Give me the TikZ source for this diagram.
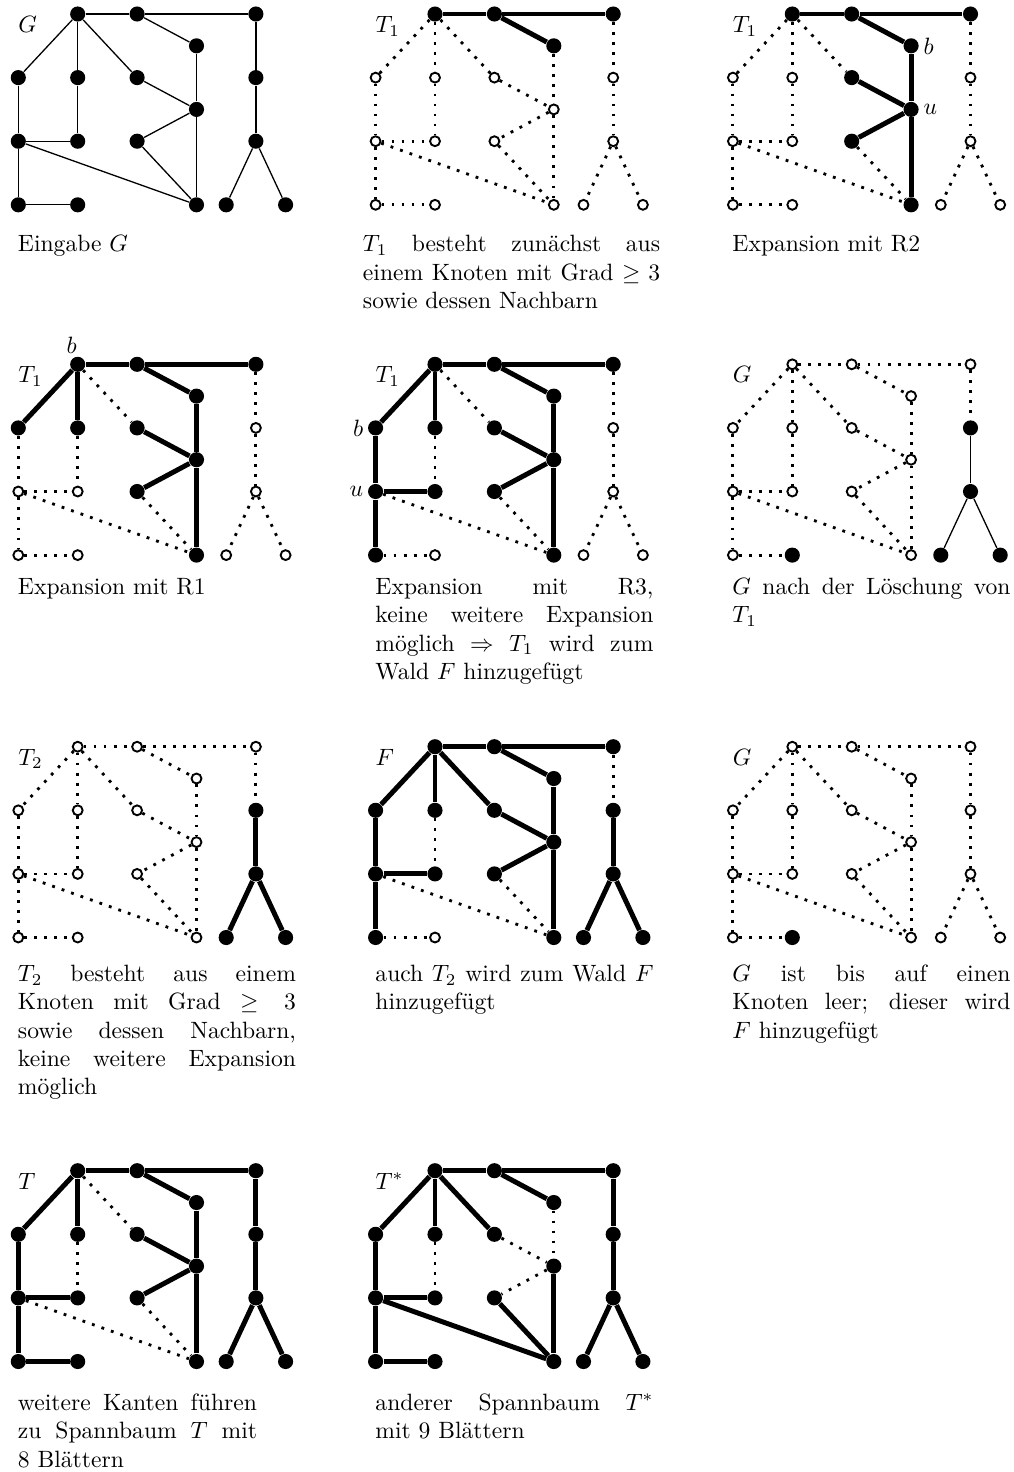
\documentclass[tikz,border=0pt]{standalone}
\usetikzlibrary{backgrounds,calc}
% one justified caption line, stretched to the caption width \cw
% (word spaces get back their stretch, which align=left removes)
\newcommand\jl[1]{{\spaceskip=0pt\xspaceskip=0pt\makebox[\cw][s]{#1}}}
% one graph: #1 name prefix, #2/#3 origin (left column, top row), #4 label, #5 looks of vertices and edges
\newcommand\graphpanel[5]{%
\begin{scope}[shift={(#2,#3)}, all-open, #5]
  \node[v-a]  (#1a)  at (59.4,0)    {};
  \node[v-b]  (#1b)  at (118.8,0)   {};
  \node[v-c]  (#1c)  at (237.6,0)   {};
  \node[v-d]  (#1d)  at (178.2,31.8) {};
  \node[v-l1] (#1l1) at (0,63.6)    {};
  \node[v-m1] (#1m1) at (59.4,63.6) {};
  \node[v-n1] (#1n1) at (118.8,63.6) {};
  \node[v-r1] (#1r1) at (237.6,63.6) {};
  \node[v-p]  (#1p)  at (178.2,95.4) {};
  \node[v-l2] (#1l2) at (0,127.2)   {};
  \node[v-m2] (#1m2) at (59.4,127.2) {};
  \node[v-n2] (#1n2) at (118.8,127.2) {};
  \node[v-r2] (#1r2) at (237.6,127.2) {};
  \node[v-l3] (#1l3) at (0,190.8)   {};
  \node[v-m3] (#1m3) at (59.4,190.8) {};
  \node[v-q]  (#1q)  at (178.2,190.8) {};
  \node[v-s1] (#1s1) at (207.9,190.8) {};
  \node[v-s2] (#1s2) at (267.3,190.8) {};
  \node[glabel] (#1lab) at (-0.5,18.5) {#4};
  \begin{scope}[on background layer]
    \draw[e-ab]   (#1a)  -- (#1b);
    \draw[e-bc]   (#1b)  -- (#1c);
    \draw[e-bd]   (#1b)  -- (#1d);
    \draw[e-al1]  (#1a)  -- (#1l1);
    \draw[e-am1]  (#1a)  -- (#1m1);
    \draw[e-an1]  (#1a)  -- (#1n1);
    \draw[e-cr1]  (#1c)  -- (#1r1);
    \draw[e-dp]   (#1d)  -- (#1p);
    \draw[e-n1p]  (#1n1) -- (#1p);
    \draw[e-l1l2] (#1l1) -- (#1l2);
    \draw[e-m1m2] (#1m1) -- (#1m2);
    \draw[e-pn2]  (#1p)  -- (#1n2);
    \draw[e-r1r2] (#1r1) -- (#1r2);
    \draw[e-l2m2] (#1l2) -- (#1m2);
    \draw[e-l2l3] (#1l2) -- (#1l3);
    \draw[e-l2q]  (#1l2) -- (#1q);
    \draw[e-n2q]  (#1n2) -- (#1q);
    \draw[e-pq]   (#1p)  -- (#1q);
    \draw[e-r2s1] (#1r2) -- (#1s1);
    \draw[e-r2s2] (#1r2) -- (#1s2);
    \draw[e-l3m3] (#1l3) -- (#1m3);
  \end{scope}
\end{scope}}
\begin{document}
\begin{tikzpicture}[x=0.4237pt, y=-0.4237pt,
  fv/.style={circle, fill=black, inner sep=0pt, minimum size=6.4pt},
  ov/.style={circle, draw=black, fill=white, line width=0.8pt, inner sep=0pt, minimum size=4.2pt},
  gedge/.style={line width=0.55pt},
  tedge/.style={line width=2.1pt},
  dedge/.style={line width=1.2pt, dash pattern=on 1.2pt off 3.05pt},
  fill-v/.style={v-#1/.style=fv},
  bold-e/.style={e-#1/.style=tedge},
  thin-e/.style={e-#1/.style=gedge},
  all-open/.style={
    v-a/.style=ov, v-b/.style=ov, v-c/.style=ov, v-d/.style=ov,
    v-l1/.style=ov, v-m1/.style=ov, v-n1/.style=ov, v-r1/.style=ov, v-p/.style=ov,
    v-l2/.style=ov, v-m2/.style=ov, v-n2/.style=ov, v-r2/.style=ov,
    v-l3/.style=ov, v-m3/.style=ov, v-q/.style=ov, v-s1/.style=ov, v-s2/.style=ov,
    e-ab/.style=dedge, e-bc/.style=dedge, e-bd/.style=dedge, e-al1/.style=dedge,
    e-am1/.style=dedge, e-an1/.style=dedge, e-cr1/.style=dedge, e-dp/.style=dedge,
    e-n1p/.style=dedge, e-l1l2/.style=dedge, e-m1m2/.style=dedge, e-pn2/.style=dedge,
    e-r1r2/.style=dedge, e-l2m2/.style=dedge, e-l2l3/.style=dedge, e-l2q/.style=dedge,
    e-n2q/.style=dedge, e-pq/.style=dedge, e-r2s1/.style=dedge, e-r2s2/.style=dedge,
    e-l3m3/.style=dedge},
  all-filled/.style={fill-v=a, fill-v=b, fill-v=c, fill-v=d, fill-v=l1, fill-v=m1,
    fill-v=n1, fill-v=r1, fill-v=p, fill-v=l2, fill-v=m2, fill-v=n2, fill-v=r2,
    fill-v=l3, fill-v=m3, fill-v=q, fill-v=s1, fill-v=s2},
  all-thin/.style={thin-e=ab, thin-e=bc, thin-e=bd, thin-e=al1, thin-e=am1, thin-e=an1,
    thin-e=cr1, thin-e=dp, thin-e=n1p, thin-e=l1l2, thin-e=m1m2, thin-e=pn2, thin-e=r1r2,
    thin-e=l2m2, thin-e=l2l3, thin-e=l2q, thin-e=n2q, thin-e=pq, thin-e=r2s1, thin-e=r2s2,
    thin-e=l3m3},
  stage-a/.style={fill-v=a, fill-v=b, fill-v=c, fill-v=d, bold-e=ab, bold-e=bc, bold-e=bd},
  stage-b/.style={stage-a, fill-v=n1, fill-v=p, fill-v=n2, fill-v=q,
    bold-e=dp, bold-e=n1p, bold-e=pn2, bold-e=pq},
  stage-c/.style={stage-b, fill-v=l1, fill-v=m1, bold-e=al1, bold-e=am1},
  stage-d/.style={stage-c, fill-v=l2, fill-v=m2, fill-v=l3,
    bold-e=l1l2, bold-e=l2m2, bold-e=l2l3},
  tree-two/.style={fill-v=r1, fill-v=r2, fill-v=s1, fill-v=s2,
    bold-e=r1r2, bold-e=r2s1, bold-e=r2s2},
  rest-a/.style={fill-v=r1, fill-v=r2, fill-v=s1, fill-v=s2, fill-v=m3,
    thin-e=r1r2, thin-e=r2s1, thin-e=r2s2},
  forest-f/.style={stage-d, tree-two, bold-e=an1},
  span-t/.style={stage-d, tree-two, fill-v=m3, bold-e=l3m3, bold-e=cr1},
  span-tstar/.style={all-filled, bold-e=ab, bold-e=bc, bold-e=bd, bold-e=al1, bold-e=am1,
    bold-e=an1, bold-e=l1l2, bold-e=l2m2, bold-e=l2l3, bold-e=l3m3, bold-e=l2q,
    bold-e=n2q, bold-e=pq, bold-e=cr1, bold-e=r1r2, bold-e=r2s1, bold-e=r2s2},
  glabel/.style={anchor=base west, inner sep=0pt},
  vlabel/.style={inner sep=0pt},
  capnode/.style={anchor=north west, inner sep=0pt, text width=#1, align=left,
    execute at begin node={\def\cw{#1}\noindent\rule{0pt}{8pt}}},
  capnode/.default=117.8pt,
]
\useasboundingbox (0,0) rectangle (1014,1472);

% row 1
\graphpanel{A}{18.3}{14}{$G$}{all-filled, all-thin}
\graphpanel{B}{375.6}{14}{$T_1$}{stage-a}
\graphpanel{C}{732.9}{14}{$T_1$}{stage-b}
\node[vlabel, anchor=west] (Cb) at ($(Cd)+(12,0)$) {$b$};
\node[vlabel, anchor=west] (Cu) at ($(Cp)+(12,0)$) {$u$};

\node[capnode] (capA) at (17.5,232.6) {Eingabe $G$};
\node[capnode=125.9pt] (capB) at (362.5,232.6) {\jl{$T_1$ besteht zunächst aus}\\
  \jl{einem Knoten mit Grad $\geq 3$}\\ sowie dessen Nachbarn};
\node[capnode] (capC) at (732,232.6) {Expansion mit R2};

% row 2
\graphpanel{D}{18.3}{364.3}{$T_1$}{stage-c}
\node[vlabel, anchor=base] (Db) at ($(Da)+(-6,-11.3)$) {$b$};
\graphpanel{E}{375.6}{364.3}{$T_1$}{stage-d}
\node[vlabel, anchor=east] (Eb) at ($(El1)+(-12,0)$) {$b$};
\node[vlabel, anchor=east] (Eu) at ($(El2)+(-12,0)$) {$u$};
\graphpanel{F}{732.9}{364.3}{$G$}{rest-a}

\node[capnode] (capD) at (17.5,575.1) {Expansion mit R1};
\node[capnode] (capE) at (375,575.1) {\jl{Expansion mit R3,}\\
  \jl{keine weitere Expansion}\\ \jl{möglich $\Rightarrow$ $T_1$ wird zum}\\
  Wald $F$ hinzugefügt};
\node[capnode] (capF) at (732,575.1) {\jl{$G$ nach der Löschung von}\\ $T_1$};

% row 3
\graphpanel{G}{18.3}{746.7}{$T_2$}{tree-two}
\graphpanel{H}{375.6}{746.7}{$F$}{forest-f}
\graphpanel{I}{732.9}{746.7}{$G$}{fill-v=m3}

\node[capnode] (capG) at (17.5,962.1) {\jl{$T_2$ besteht aus einem}\\
  \jl{Knoten mit Grad $\geq 3$}\\ \jl{sowie dessen Nachbarn,}\\
  \jl{keine weitere Expansion}\\ möglich};
\node[capnode] (capH) at (375,962.1) {\jl{auch $T_2$ wird zum Wald $F$}\\ hinzugefügt};
\node[capnode] (capI) at (732,962.1) {\jl{$G$ ist bis auf einen}\\
  \jl{Knoten leer; dieser wird}\\ $F$ hinzugefügt};

% row 4
\graphpanel{J}{18.3}{1170.7}{$T$}{span-t}
\graphpanel{K}{375.6}{1170.7}{$T^*$}{span-tstar}

\node[capnode=101.3pt] (capJ) at (17.5,1391.1) {\jl{weitere Kanten führen}\\
  \jl{zu Spannbaum $T$ mit}\\ 8 Blättern};
\node[capnode] (capK) at (375,1391.1) {\jl{anderer Spannbaum $T^*$}\\ mit 9 Blättern};
\end{tikzpicture}
\end{document}
